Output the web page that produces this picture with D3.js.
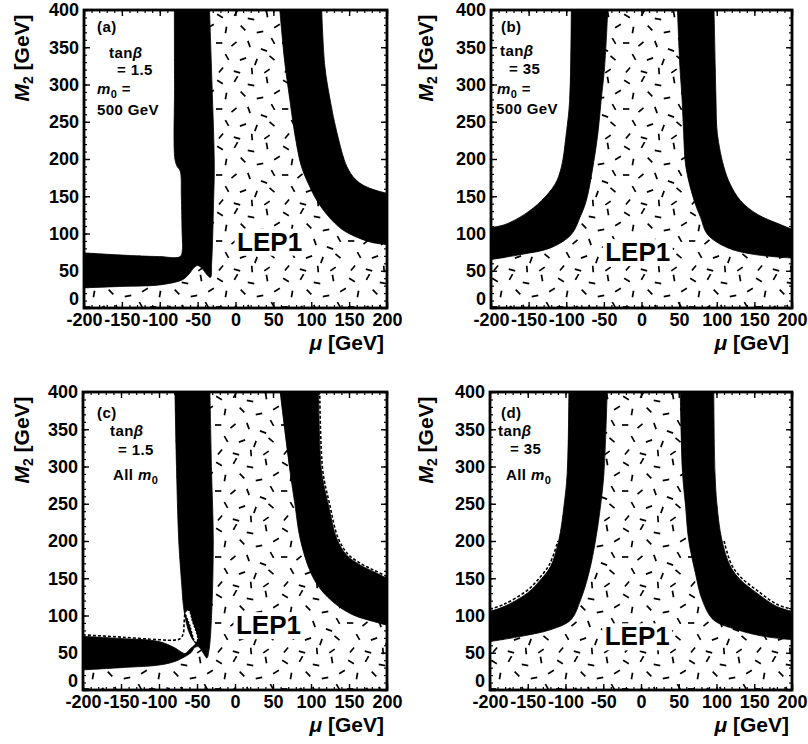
<!DOCTYPE html>
<html>
<head>
<meta charset="utf-8">
<script src="https://cdn.jsdelivr.net/npm/d3@7"></script>
<style>
  html, body { margin: 0; padding: 0; background: #fff; }
  svg { display: block; }
  text { font-family: "Liberation Sans", Arial, Helvetica, sans-serif; font-weight: bold; fill: #000; }
</style>
</head>
<body>
<svg id="chart" width="808" height="744"></svg>
<script>
// Axis ranges and tick labels (mu and M2 in GeV)
const muDomain = [-200, 200];
const m2Domain = [0, 400];
const muTicks = [-200, -150, -100, -50, 0, 50, 100, 150, 200];
const m2Ticks = [0, 50, 100, 150, 200, 250, 300, 350, 400];

// Excluded bands, each as [mu, M2] points.
// "outer" edge borders the allowed (white) region, "inner" edge borders the LEP1 region.
// (a) tan(beta) = 1.5, m0 = 500 GeV
const aLeftOuter  = [[-80.7,400],[-80.5,300],[-80,200],[-77,190],[-73,184],[-71.5,150],[-70.5,100],[-70,80],[-73,69],[-100,69],[-150,71],[-200,74]];
const aLeftInner  = [[-34.3,400],[-31,300],[-28,190],[-29,140],[-30,100],[-31.5,60],[-33,41],[-38,45],[-44,53],[-50,57],[-55,54],[-61,46],[-70,38],[-100,31],[-150,29],[-200,27]];
const aRightOuter = [[113.8,400],[118,324],[125,279],[134,235],[147,190],[158,173],[170,164],[185,158],[200,154]];
const aRightInner = [[58.5,400],[65,330],[71.8,279],[78,235],[87,190],[97,165],[107,145],[122.6,123],[140,106],[160,95],[180,88],[200,85]];

// (b) tan(beta) = 35, m0 = 500 GeV
const bLeftOuter  = [[-93.3,400],[-95.5,279],[-100,234],[-106.5,189],[-115,166],[-133,144],[-155,126],[-181.5,112],[-200,108]];
const bLeftInner  = [[-44.8,400],[-49,324],[-53.6,279],[-58,234],[-64.6,189],[-73.4,144],[-82,121],[-93,99],[-120,81],[-159,72],[-200,65]];
const bRightOuter = [[96.4,400],[98,324],[99,279],[100.8,234],[109.6,189],[118,166],[131.6,144],[153.6,126],[184.5,112],[200,105.6]];
const bRightInner = [[47.8,400],[51,324],[54,279],[56,234],[59,189],[70,144],[78.7,121],[87.5,99],[114,81],[149,72],[200,67]];

// (c) tan(beta) = 1.5, all m0
const cLeftOuter  = [[-79,400],[-77,300],[-74,200],[-70,140],[-68,114],[-66,100],[-62,82],[-56,68],[-52,62],[-56,58],[-62,52],[-66,49],[-80,57],[-100,65],[-150,69],[-200,72]];
const cLeftInner  = [[-33,400],[-30.8,293],[-28.6,200],[-30.8,100],[-34,55],[-37,43],[-42,50],[-48,58],[-53,57],[-58,50],[-66,44.7],[-80,38],[-100,33.5],[-150,30],[-200,27]];
const cRightOuter = [[110,400],[114,293],[123,248],[134,203],[147,181],[165,167.6],[182,159],[200,150]];
const cRightInner = [[59.4,400],[72.5,293],[79,248],[85.7,203],[99,159],[112,136],[134,114],[156,100.5],[182,92],[200,87]];
const cSliver     = [[-66,104],[-61,107],[-56,92],[-49,68],[-52,64],[-59,86]];
const cContour    = [[-200,74],[-150,71],[-100,67.5],[-80,67],[-72,69],[-68,76],[-67,90],[-66,103]];

// (d) tan(beta) = 35, all m0
const dLeftOuter  = [[-95.5,400],[-97.7,292],[-102,247],[-108.7,202],[-119.7,166],[-133,148],[-150.6,130],[-181.5,112],[-200,105.6]];
const dLeftInner  = [[-44.8,400],[-49,292],[-53.6,247],[-60,202],[-69,157],[-80,121],[-93,94],[-119.7,81],[-159,72],[-200,65]];
const dRightOuter = [[96.4,400],[98,292],[100.8,247],[107,202],[118.4,166],[131.6,148],[153.6,130],[180,112],[200,105.6]];
const dRightInner = [[52,400],[55,292],[59,247],[63,202],[72,157],[81,121],[96,94],[127,81],[162.6,72],[200,67.4]];
const dLeftContour  = [[-200,108.5],[-181.5,115],[-151,133.5],[-134,151],[-121,169],[-110,200]];
const dRightContour = [[110,200],[120,168],[132.5,151],[154,133.5],[180,115],[200,108.5]];

const svg = d3.select("#chart");

// Hatch used for the LEP1-excluded area: short strokes at assorted angles
const defs = svg.append("defs");
const tile = 66;
const pat = defs.append("pattern")
  .attr("id", "lep1")
  .attr("patternUnits", "userSpaceOnUse")
  .attr("width", tile).attr("height", tile);
pat.append("rect").attr("width", tile).attr("height", tile).attr("fill", "#fff");
const strokes = [
  [4,6,30],[20,3,-60],[35,9,10],[51,4,80],[61,16,-30],[10,20,-80],[27,18,45],[44,22,-10],
  [57,31,60],[3,33,0],[18,34,-40],[33,34,70],[48,40,20],[11,47,60],[27,49,-20],[40,52,-70],
  [56,48,40],[5,60,-50],[21,62,15],[36,61,85],[51,61,-35]
];
strokes.forEach(([x, y, a]) => {
  const r = a * Math.PI / 180, h = 3.3;
  pat.append("line")
    .attr("x1", x - h * Math.cos(r)).attr("y1", y - h * Math.sin(r))
    .attr("x2", x + h * Math.cos(r)).attr("y2", y + h * Math.sin(r))
    .attr("stroke", "#000").attr("stroke-width", 1.7).attr("stroke-linecap", "butt");
});

const panels = [
  { id: "a", left: 84, top: 10, w: 303, h: 298,
    bands: [[aLeftOuter, aLeftInner, [-200,400]], [aRightOuter, aRightInner, [200,400]]],
    lep: [45, 89],
    notes: [["(a)",13,22],["tan|β",25,48],["= 1.5",33,65],["m0 =",13,84],["500 GeV",13,105]] },
  { id: "b", left: 491, top: 10, w: 301, h: 298,
    bands: [[bLeftOuter, bLeftInner, [-200,400]], [bRightOuter, bRightInner, [200,400]]],
    lep: [-5, 75],
    notes: [["(b)",10,22],["tan|β",9,46],["= 35",18,64],["m0 =",6,84],["500 GeV",5,104]] },
  { id: "c", left: 83, top: 392, w: 304, h: 298,
    bands: [[cLeftOuter, cLeftInner, [-200,400]], [cRightOuter, cRightInner, [200,400]]],
    sliver: cSliver, contours: [cContour, cRightOuter.map(([m, v]) => [m + 1.5, v + 1.5])],
    lep: [44, 87],
    notes: [["(c)",14,26],["tan|β",27,44],["= 1.5",35,63],["All m0",30,88]] },
  { id: "d", left: 490, top: 392, w: 302, h: 298,
    bands: [[dLeftOuter, dLeftInner, [-200,400]], [dRightOuter, dRightInner, [200,400]]],
    contours: [dLeftContour, dRightContour],
    lep: [-5, 72],
    notes: [["(d)",11,26],["tan|β",8,44],["= 35",20,62],["All m0",16,88]] }
];

panels.forEach(p => {
  const x = d3.scaleLinear().domain(muDomain).range([0, p.w]);
  const y = d3.scaleLinear().domain(m2Domain).range([p.h, 0]);
  const smooth = d3.line().x(d => x(d[0])).y(d => y(d[1])).curve(d3.curveCatmullRom.alpha(0.5));
  const cont = pts => "L" + smooth(pts).slice(1);
  const g = svg.append("g").attr("transform", `translate(${p.left},${p.top})`);

  defs.append("clipPath").attr("id", "clip-" + p.id)
    .append("rect").attr("width", p.w).attr("height", p.h);
  const area = g.append("g").attr("clip-path", `url(#clip-${p.id})`);

  // LEP1 excluded background
  area.append("rect").attr("width", p.w).attr("height", p.h).attr("fill", "url(#lep1)");

  // Allowed regions (white) and excluded bands (black)
  p.bands.forEach(([outer, inner, corner]) => {
    area.append("path")
      .attr("d", smooth(outer) + cont([corner, corner]) + "Z")
      .attr("fill", "#fff");
    area.append("path")
      .attr("d", smooth(outer) + cont(inner.slice().reverse()) + "Z")
      .attr("fill", "#000").attr("stroke", "#000").attr("stroke-width", 0.8);
  });

  if (p.sliver) {
    area.append("path").attr("d", smooth(p.sliver) + "Z")
      .attr("fill", "#fff").attr("stroke", "#000").attr("stroke-width", 1.2)
      .attr("stroke-dasharray", "2,1.5");
  }
  (p.contours || []).forEach(c => {
    area.append("path").attr("d", smooth(c)).attr("fill", "none")
      .attr("stroke", "#000").attr("stroke-width", 1.6).attr("stroke-dasharray", "3,2");
  });

  // LEP1 label on a white patch
  const lx = x(p.lep[0]), ly = y(p.lep[1]);
  area.append("rect").attr("x", lx - 35).attr("y", ly - 13).attr("width", 70).attr("height", 27).attr("fill", "#fff");
  area.append("text").attr("x", lx).attr("y", ly + 9).attr("text-anchor", "middle")
    .style("font-size", "26px").text("LEP1");

  // Panel notes
  p.notes.forEach(([t, nx, ny]) => {
    const txt = g.append("text").attr("x", nx).attr("y", ny)
      .style("font-size", "15px").style("letter-spacing", "0.4px");
    if (t.startsWith("tan|")) {
      txt.append("tspan").text("tan");
      txt.append("tspan").style("font-style", "italic").text("β");
    } else if (t.includes("m0")) {
      const [pre, post] = t.split("m0");
      if (pre) txt.append("tspan").text(pre);
      txt.append("tspan").style("font-style", "italic").text("m");
      txt.append("tspan").attr("dy", 4).style("font-size", "11px").text("0");
      txt.append("tspan").attr("dy", -4).text(post);
    } else {
      txt.text(t);
    }
  });

  // Frame with inward ticks on all sides
  const minorMu = d3.range(-200, 201, 10), minorM2 = d3.range(0, 401, 10);
  const tickAxes = [
    [d3.axisBottom(x), `translate(0,${p.h})`, minorMu, muTicks],
    [d3.axisTop(x), `translate(0,0)`, minorMu, muTicks],
    [d3.axisLeft(y), `translate(0,0)`, minorM2, m2Ticks],
    [d3.axisRight(y), `translate(${p.w},0)`, minorM2, m2Ticks]
  ];
  tickAxes.forEach(([ax, tr, minor, major]) => {
    const gm = g.append("g").attr("transform", tr)
      .call(ax.tickValues(minor).tickSize(-3).tickFormat(""));
    gm.select(".domain").remove();
    gm.selectAll("line").attr("stroke-width", 1.2);
    const gM = g.append("g").attr("transform", tr)
      .call(ax.tickValues(major).tickSize(-6).tickFormat(""));
    gM.select(".domain").remove();
    gM.selectAll("line").attr("stroke-width", 1.4);
  });
  g.append("rect").attr("width", p.w).attr("height", p.h)
    .attr("fill", "none").attr("stroke", "#000").attr("stroke-width", 2.8);

  // Tick labels
  const xl = g.append("g").attr("transform", `translate(0,${p.h})`)
    .call(d3.axisBottom(x).tickValues(muTicks).tickSize(0).tickPadding(5).tickFormat(d => d < 0 ? "-" + (-d) : d));
  xl.select(".domain").remove();
  const yl = g.append("g")
    .call(d3.axisLeft(y).tickValues(m2Ticks).tickSize(0).tickPadding(5).tickFormat(d => d));
  yl.select(".domain").remove();
  [xl, yl].forEach(s => {
    s.attr("font-family", null).attr("font-size", null);
    s.selectAll("text").style("font-size", "18px").attr("fill", "#000");
  });
  // the zero label sits raised, clear of the mu labels
  yl.selectAll(".tick").filter(d => d === 0).select("text").attr("y", -9);

  // Axis titles
  const yt = g.append("text")
    .attr("transform", `translate(${(p.left > 400 ? 404 : 0) + 29 - p.left},48) rotate(-90)`)
    .attr("text-anchor", "middle").style("font-size", "21px");
  yt.append("tspan").style("font-style", "italic").text("M");
  yt.append("tspan").attr("dy", 4).style("font-size", "14px").text("2");
  yt.append("tspan").attr("dy", -4).text(" [GeV]");

  const xt = g.append("text").attr("x", p.w - 3).attr("y", p.h + 42)
    .attr("text-anchor", "end").style("font-size", "21px");
  xt.append("tspan").style("font-style", "italic").text("μ");
  xt.append("tspan").text(" [GeV]");
});
</script>
</body>
</html>
